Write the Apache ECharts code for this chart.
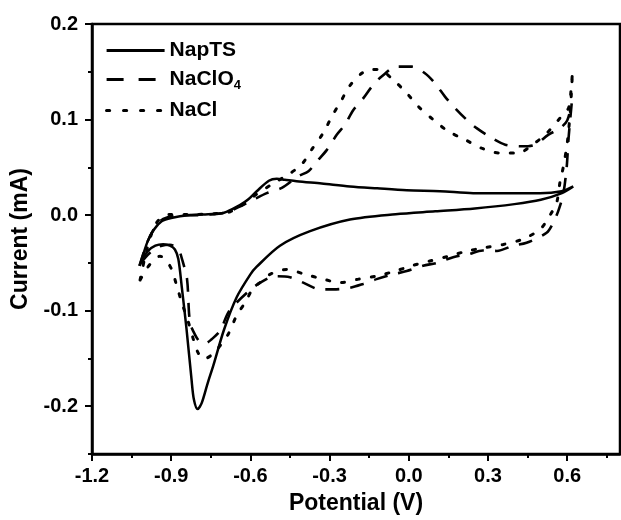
<!DOCTYPE html>
<html>
<head>
<meta charset="utf-8">
<script src="https://cdn.jsdelivr.net/npm/echarts@6/dist/echarts.min.js"></script>
<style>html,body{margin:0;padding:0;background:#fff}#c{width:621px;height:520px}</style>
</head>
<body>
<div id="c"></div>
<script>
// Tick values
const xMajorTicks = [-1.2, -0.9, -0.6, -0.3, 0.0, 0.3, 0.6];
const xMinorTicks = [-1.05, -0.75, -0.45, -0.15, 0.15, 0.45, 0.75];
const yMajorTicks = [-0.2, -0.1, 0.0, 0.1, 0.2];
const yMinorTicks = [-0.25, -0.15, -0.05, 0.05, 0.15];

// Series names
const seriesNames = ['NapTS', 'NaClO4', 'NaCl'];

// NapTS (solid) closed CV loop, [potential V, current mA]
const napTS = [
  [0.623,0.030],[0.579,0.025],[0.497,0.0228],[0.35,0.0228],[0.244,0.023],[0.118,0.025],
  [-0.008,0.026],[-0.12,0.028],[-0.223,0.030],[-0.33,0.033],[-0.425,0.0354],[-0.47,0.037],
  [-0.50,0.038],[-0.53,0.036],[-0.576,0.025],[-0.61,0.016],[-0.64,0.0105],[-0.70,0.0025],
  [-0.76,0.001],[-0.829,0.0],[-0.90,-0.003],[-0.936,-0.0064],[-0.965,-0.015],[-0.99,-0.028],
  [-1.02,-0.053],
  [-0.99,-0.038],[-0.96,-0.032],[-0.93,-0.0305],[-0.905,-0.032],[-0.886,-0.036],[-0.873,-0.046],
  [-0.86,-0.075],[-0.842,-0.119],[-0.823,-0.172],[-0.814,-0.193],[-0.800,-0.203],[-0.785,-0.197],
  [-0.762,-0.176],[-0.74,-0.157],[-0.70,-0.12],[-0.652,-0.086],[-0.60,-0.062],[-0.576,-0.054],
  [-0.488,-0.032],[-0.374,-0.0168],[-0.223,-0.0046],[-0.05,0.001],[0.1,0.004],[0.25,0.007],
  [0.4,0.0115],[0.5,0.016],[0.58,0.023],[0.623,0.030]
];

// NaClO4 (dashed) closed CV loop
const naClO4 = [
  [-1.02,-0.053],[-0.99,-0.028],[-0.96,-0.012],[-0.93,-0.004],[-0.88,-0.0005],[-0.8,0.0],
  [-0.72,0.0015],[-0.68,0.004],[-0.64,0.009],[-0.59,0.016],[-0.538,0.023],[-0.481,0.0285],
  [-0.419,0.0406],[-0.38,0.046],[-0.349,0.056],[-0.311,0.068],[-0.273,0.084],[-0.242,0.0946],
  [-0.21,0.110],[-0.172,0.1224],[-0.14,0.1345],[-0.103,0.145],[-0.046,0.1554],[0.011,0.1554],
  [0.061,0.1485],[0.099,0.138],[0.137,0.124],[0.175,0.112],[0.219,0.0998],[0.257,0.091],
  [0.314,0.0807],[0.365,0.0737],[0.428,0.072],[0.478,0.0737],[0.528,0.084],[0.573,0.091],
  [0.60,0.099],[0.617,0.117],
  [0.605,0.08],[0.598,0.05],[0.585,0.022],[0.567,0.005],[0.547,-0.008],[0.522,-0.0185],
  [0.446,-0.029],[0.395,-0.032],[0.334,-0.0375],[0.28,-0.037],[0.225,-0.041],[0.168,-0.044],
  [0.106,-0.05],[0.054,-0.053],[-0.008,-0.0586],[-0.06,-0.062],[-0.122,-0.067],[-0.173,-0.072],
  [-0.223,-0.076],[-0.286,-0.0777],[-0.336,-0.0777],[-0.40,-0.0707],[-0.45,-0.065],[-0.507,-0.064],
  [-0.564,-0.071],[-0.60,-0.078],[-0.652,-0.0915],[-0.684,-0.102],[-0.715,-0.121],[-0.747,-0.130],
  [-0.77,-0.134],[-0.79,-0.133],[-0.81,-0.125],[-0.829,-0.112],[-0.84,-0.067],[-0.857,-0.048],
  [-0.873,-0.036],[-0.905,-0.031],[-0.936,-0.032],[-0.97,-0.037],[-1.0,-0.045],[-1.02,-0.053]
];

// NaCl (dotted) closed CV loop
const naCl = [
  [-1.018,-0.068],[-1.0,-0.045],[-0.975,-0.02],[-0.95,-0.006],[-0.905,0.0006],[-0.82,0.0006],
  [-0.74,0.0015],[-0.677,0.0035],[-0.614,0.014],[-0.576,0.022],[-0.52,0.032],[-0.457,0.0424],
  [-0.406,0.053],[-0.368,0.0685],[-0.324,0.086],[-0.292,0.103],[-0.254,0.1207],[-0.226,0.1345],
  [-0.178,0.1485],[-0.14,0.1525],[-0.109,0.152],[-0.059,0.1415],[-0.008,0.1277],[0.036,0.1137],
  [0.093,0.0998],[0.15,0.0876],[0.213,0.079],[0.276,0.070],[0.345,0.065],[0.415,0.065],
  [0.47,0.074],[0.52,0.085],[0.573,0.1016],[0.605,0.112],[0.614,0.129],[0.62,0.150],
  [0.612,0.11],[0.6,0.075],[0.585,0.05],[0.573,0.035],[0.56,0.013],[0.535,0.0],
  [0.497,-0.015],[0.428,-0.0255],[0.358,-0.0307],[0.289,-0.034],[0.22,-0.0377],[0.151,-0.043],
  [0.08,-0.048],[0.011,-0.053],[-0.052,-0.0586],[-0.122,-0.0638],[-0.19,-0.067],[-0.26,-0.0707],
  [-0.324,-0.067],[-0.393,-0.062],[-0.463,-0.0568],[-0.526,-0.062],[-0.564,-0.0707],[-0.589,-0.076],
  [-0.62,-0.0915],[-0.652,-0.105],[-0.684,-0.1246],[-0.72,-0.1385],[-0.75,-0.147],[-0.778,-0.1507],
  [-0.80,-0.143],[-0.816,-0.13],[-0.835,-0.112],[-0.86,-0.0915],[-0.879,-0.074],[-0.898,-0.057],
  [-0.92,-0.047],[-0.942,-0.043],[-0.965,-0.047],[-0.99,-0.055],[-1.018,-0.068]
];

const FONT = '"Liberation Sans", Arial, sans-serif';
const chart = echarts.init(document.getElementById('c'), null, {renderer: 'canvas'});

const fmt = v => Number(v).toFixed(1);
const baseAxisLine = {show: true, onZero: false, lineStyle: {color: '#000', width: 2.5}};

const option = {
  animation: false,
  backgroundColor: '#fff',
  grid: {left: 92, right: 1, top: 24, bottom: 65, show: true, borderColor: '#000', borderWidth: 2.5, containLabel: false},
  legend: {
    orient: 'vertical', left: 100, top: 35, itemWidth: 58, itemHeight: 14, itemGap: 8,
    textStyle: {fontFamily: FONT, fontWeight: 'bold', fontSize: 21, color: '#000', padding: [0,0,0,0],
      rich: {s: {fontFamily: FONT, fontWeight: 'bold', fontSize: 13, color: '#000', padding: [12,0,0,0]}}},
    formatter: name => name === 'NaClO4' ? 'NaClO{s|4}' : name,
    data: [
      {name: 'NapTS', itemStyle: {opacity: 0}, lineStyle: {type: 'solid', width: 2.8, color: '#000'}},
      {name: 'NaClO4', itemStyle: {opacity: 0}, lineStyle: {type: [17, 15], width: 2.8, color: '#000'}},
      {name: 'NaCl', itemStyle: {opacity: 0}, lineStyle: {type: [3, 14], width: 3.2, color: '#000'}}
    ]
  },
  xAxis: [
    {
      type: 'value', min: -1.2, max: 0.8, position: 'bottom',
      axisLine: baseAxisLine,
      axisTick: {show: true, customValues: xMajorTicks, length: 7, inside: false, lineStyle: {color: '#000', width: 2}},
      axisLabel: {customValues: xMajorTicks, formatter: fmt, fontFamily: FONT, fontWeight: 'bold', fontSize: 20, color: '#000', margin: 12},
      splitLine: {show: false},
      name: 'Potential (V)', nameLocation: 'middle', nameGap: 38,
      nameTextStyle: {fontFamily: FONT, fontWeight: 'bold', fontSize: 23, color: '#000'}
    },
    {
      type: 'value', min: -1.2, max: 0.8, position: 'bottom',
      axisLine: {show: false, onZero: false},
      axisTick: {show: true, customValues: xMinorTicks, length: 4, inside: false, lineStyle: {color: '#000', width: 2}},
      axisLabel: {show: false},
      splitLine: {show: false}
    }
  ],
  yAxis: [
    {
      type: 'value', min: -0.25, max: 0.2, position: 'left',
      axisLine: baseAxisLine,
      axisTick: {show: true, customValues: yMajorTicks, length: 7, inside: false, lineStyle: {color: '#000', width: 2}},
      axisLabel: {customValues: yMajorTicks, formatter: fmt, fontFamily: FONT, fontWeight: 'bold', fontSize: 20, color: '#000', margin: 14},
      splitLine: {show: false},
      name: 'Current (mA)', nameLocation: 'middle', nameGap: 55,
      nameTextStyle: {fontFamily: FONT, fontWeight: 'bold', fontSize: 23, color: '#000'}
    },
    {
      type: 'value', min: -0.25, max: 0.2, position: 'left',
      axisLine: {show: false, onZero: false},
      axisTick: {show: true, customValues: yMinorTicks, length: 4, inside: false, lineStyle: {color: '#000', width: 2}},
      axisLabel: {show: false},
      splitLine: {show: false}
    }
  ],
  series: [
    {name: seriesNames[0], type: 'line', data: napTS, smooth: 0.3, symbol: 'none', xAxisIndex: 0, yAxisIndex: 0,
      lineStyle: {color: '#000', width: 2.5, type: 'solid'}},
    {name: seriesNames[1], type: 'line', data: naClO4, smooth: 0.3, symbol: 'none', xAxisIndex: 0, yAxisIndex: 0,
      lineStyle: {color: '#000', width: 2.6, type: [14, 11]}},
    {name: seriesNames[2], type: 'line', data: naCl, smooth: 0.3, symbol: 'none', xAxisIndex: 0, yAxisIndex: 0,
      lineStyle: {color: '#000', width: 3, type: [3, 12], cap: 'round'}}
  ]
};
chart.setOption(option);
</script>
</body>
</html>
